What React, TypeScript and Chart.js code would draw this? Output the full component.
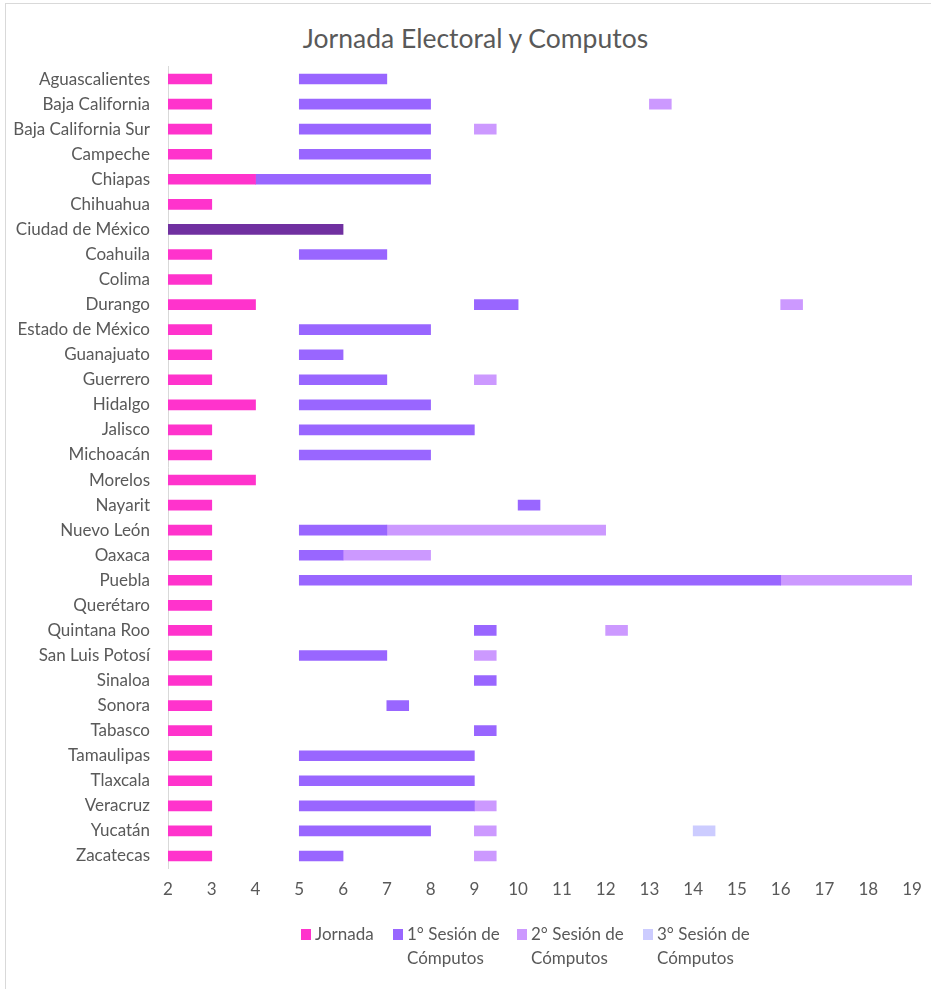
import React, { useEffect, useRef } from "react";
import { Chart, registerables } from "chart.js";

Chart.register(...registerables);

type Range = [number, number] | null;

const TITLE = "Jornada Electoral y Computos";

const STATES: string[] = [
  "Aguascalientes", "Baja California", "Baja California Sur", "Campeche", "Chiapas",
  "Chihuahua", "Ciudad de México", "Coahuila", "Colima", "Durango",
  "Estado de México", "Guanajuato", "Guerrero", "Hidalgo", "Jalisco",
  "Michoacán", "Morelos", "Nayarit", "Nuevo León", "Oaxaca",
  "Puebla", "Querétaro", "Quintana Roo", "San Luis Potosí", "Sinaloa",
  "Sonora", "Tabasco", "Tamaulipas", "Tlaxcala", "Veracruz",
  "Yucatán", "Zacatecas",
];

const JORNADA: Range[] = [
  [2, 3], [2, 3], [2, 3], [2, 3], [2, 4],
  [2, 3], [2, 6], [2, 3], [2, 3], [2, 4],
  [2, 3], [2, 3], [2, 3], [2, 4], [2, 3],
  [2, 3], [2, 4], [2, 3], [2, 3], [2, 3],
  [2, 3], [2, 3], [2, 3], [2, 3], [2, 3],
  [2, 3], [2, 3], [2, 3], [2, 3], [2, 3],
  [2, 3], [2, 3],
];

const SESION1: Range[] = [
  [5, 7], [5, 8], [5, 8], [5, 8], [4, 8],
  null, null, [5, 7], null, [9, 10],
  [5, 8], [5, 6], [5, 7], [5, 8], [5, 9],
  [5, 8], null, [10, 10.5], [5, 7], [5, 6],
  [5, 16], null, [9, 9.5], [5, 7], [9, 9.5],
  [7, 7.5], [9, 9.5], [5, 9], [5, 9], [5, 9],
  [5, 8], [5, 6],
];

const SESION2: Range[] = [
  null, [13, 13.5], [9, 9.5], null, null,
  null, null, null, null, [16, 16.5],
  null, null, [9, 9.5], null, null,
  null, null, null, [7, 12], [6, 8],
  [16, 19], null, [12, 12.5], [9, 9.5], null,
  null, null, null, null, [9, 9.5],
  [9, 9.5], [9, 9.5],
];

const SESION3: Range[] = [
  null, null, null, null, null,
  null, null, null, null, null,
  null, null, null, null, null,
  null, null, null, null, null,
  null, null, null, null, null,
  null, null, null, null, null,
  [14, 14.5], null,
];

const SERIES_NAMES = ["Jornada", "1° Sesión de\nCómputos", "2° Sesión de\nCómputos", "3° Sesión de\nCómputos"];
const SERIES_COLORS = ["#FF33CC", "#9966FF", "#CC99FF", "#CCCCFF"];
const HIGHLIGHT_STATE = "Ciudad de México";
const HIGHLIGHT_COLOR = "#7030A0";

const X_MIN = 2;
const X_MAX = 19;

const FONT = "Lato, 'Open Sans', sans-serif";
const TEXT_COLOR = "#595959";

export default function App() {
  const canvasRef = useRef<HTMLCanvasElement | null>(null);

  useEffect(() => {
    if (!canvasRef.current) return;
    const jornadaColors = STATES.map((s) => (s === HIGHLIGHT_STATE ? HIGHLIGHT_COLOR : SERIES_COLORS[0]));
    const seriesData = [JORNADA, SESION1, SESION2, SESION3];
    const datasets = seriesData.map((d, i) => ({
      label: SERIES_NAMES[i],
      data: d as any,
      backgroundColor: i === 0 ? jornadaColors : SERIES_COLORS[i],
      borderWidth: 0,
      barThickness: 10,
      grouped: false,
    }));

    const chart = new Chart(canvasRef.current, {
      type: "bar",
      data: { labels: STATES, datasets: datasets as any },
      options: {
        indexAxis: "y",
        responsive: false,
        animation: false,
        layout: { padding: { left: 0, right: 19, top: 66.5, bottom: 90 } },
        plugins: {
          legend: { display: false },
          tooltip: { enabled: false },
          title: { display: false },
        },
        scales: {
          x: {
            type: "linear",
            min: X_MIN,
            max: X_MAX,
            grid: { display: false, drawTicks: false },
            border: { display: false },
            ticks: {
              stepSize: 1,
              padding: 11,
              color: TEXT_COLOR,
              font: { family: FONT, size: 17 },
            },
            afterFit: (scale: any) => {
              scale.height = 30.5;
              scale.paddingLeft = 0;
              scale.paddingRight = 0;
            },
          },
          y: {
            type: "category",
            grid: { display: false, drawTicks: false },
            border: { display: true, color: "#D9D9D9", width: 1 },
            ticks: {
              padding: 18,
              color: TEXT_COLOR,
              font: { family: FONT, size: 17 },
              autoSkip: false,
            },
            afterFit: (scale: any) => {
              scale.width = 168;
            },
          },
        },
      } as any,
    });
    return () => chart.destroy();
  }, []);

  const legendWidths = [92, 124, 126, 110];

  return (
    <div style={{ position: "absolute", left: 0, top: 0, width: 931, height: 989, overflow: "hidden", background: "#fff" }}>
      <div
        style={{
          position: "absolute",
          left: 5,
          top: 3,
          width: 960,
          height: 1010,
          border: "1px solid #D9D9D9",
          boxSizing: "border-box",
        }}
      />
      <div
        style={{
          position: "absolute",
          left: 0,
          top: 22,
          width: 951,
          textAlign: "center",
          fontFamily: FONT,
          fontSize: 26.5,
          lineHeight: "32px",
          color: TEXT_COLOR,
        }}
      >
        {TITLE}
      </div>
      <canvas ref={canvasRef} width={931} height={989} style={{ position: "absolute", left: 0, top: 0, width: 931, height: 989 }} />
      <div
        style={{
          position: "absolute",
          left: 301,
          top: 922,
          display: "flex",
          fontFamily: FONT,
          fontSize: 17,
          color: TEXT_COLOR,
          lineHeight: "24px",
        }}
      >
        {SERIES_NAMES.map((name, i) => (
          <div key={i} style={{ display: "flex", alignItems: "flex-start", width: legendWidths[i] }}>
            <div style={{ width: 10, height: 11, background: SERIES_COLORS[i], marginTop: 7, marginRight: 4, flexShrink: 0 }} />
            <div style={{ whiteSpace: "pre-line", textAlign: "left" }}>{name}</div>
          </div>
        ))}
      </div>
    </div>
  );
}
